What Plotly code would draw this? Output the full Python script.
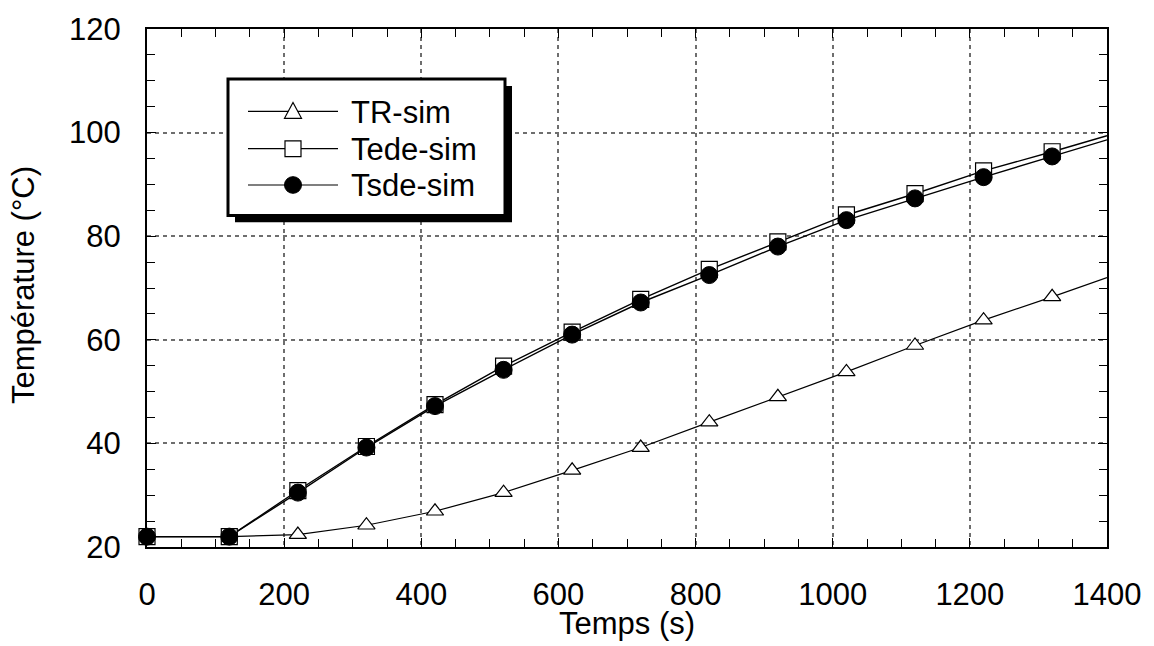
import plotly.graph_objects as go

# ---------------- data ----------------
time_s = [0, 120, 220, 320, 420, 520, 620, 720, 820, 920, 1020, 1120, 1220, 1320, 1400]
tr_sim = [22.0, 22.0, 22.4, 24.2, 26.9, 30.5, 34.8, 39.2, 44.1, 49.0, 53.8, 58.9, 63.8, 68.3, 72.0]
tede_sim = [22.0, 22.0, 30.9, 39.4, 47.5, 54.9, 61.5, 67.8, 73.6, 78.9, 84.1, 88.2, 92.6, 96.3, 99.4]
tsde_sim = [22.0, 22.0, 30.5, 39.2, 47.2, 54.2, 61.0, 67.2, 72.5, 78.0, 83.1, 87.3, 91.4, 95.4, 98.6]
series_names = ["TR-sim", "Tede-sim", "Tsde-sim"]
x_ticks = [0, 200, 400, 600, 800, 1000, 1200, 1400]
y_ticks = [20, 40, 60, 80, 100, 120]

FONT = "Liberation Sans, Arial, sans-serif"
W, H = 1154, 646
L, R, T, B = 147, 47, 19, 99
PW, PH = W - L - R, H - T - B


def fx(px):
    return (px - L) / PW


def fy(py):
    return (H - B - py) / PH


fig = go.Figure()

# lines (full simulation curves)
for vals, lw in [(tr_sim, 1.2), (tede_sim, 1.4), (tsde_sim, 1.4)]:
    fig.add_trace(go.Scatter(x=time_s, y=vals, mode="lines",
                             line=dict(color="black", width=lw), cliponaxis=False,
                             showlegend=False, hoverinfo="skip"))

# markers (not at the final 1400 s point; TR markers start at 220 s)
fig.add_trace(go.Scatter(x=time_s[2:-1], y=tr_sim[2:-1], mode="markers", name=series_names[0],
                         marker=dict(symbol="triangle-up", size=15, color="white",
                                     line=dict(color="black", width=1.2)),
                         cliponaxis=False, showlegend=False))
fig.add_trace(go.Scatter(x=time_s[:-1], y=tede_sim[:-1], mode="markers", name=series_names[1],
                         marker=dict(symbol="square", size=16, color="white",
                                     line=dict(color="black", width=1.2)),
                         cliponaxis=False, showlegend=False))
fig.add_trace(go.Scatter(x=time_s[:-1], y=tsde_sim[:-1], mode="markers", name=series_names[2],
                         marker=dict(symbol="circle", size=17, color="black",
                                     line=dict(color="black", width=1)),
                         cliponaxis=False, showlegend=False))

# ---------------- custom legend (layout shapes in paper units) ----------------
box_l, box_r, box_t, box_b = 228, 505, 70, 209
shadow = 7
shapes = [
    dict(type="rect", xref="paper", yref="paper",
         x0=fx(box_l + shadow), x1=fx(box_r + shadow), y0=fy(box_b + shadow), y1=fy(box_t + shadow),
         fillcolor="black", line=dict(color="black", width=0), layer="above"),
    dict(type="rect", xref="paper", yref="paper",
         x0=fx(box_l), x1=fx(box_r), y0=fy(box_b), y1=fy(box_t),
         fillcolor="white", line=dict(color="black", width=3), layer="above"),
]
rows_y = [103, 141, 178]
mx = 293
for ry in rows_y:
    shapes.append(dict(type="line", xref="paper", yref="paper",
                       x0=fx(248), x1=fx(338), y0=fy(ry), y1=fy(ry),
                       line=dict(color="black", width=1.2), layer="above"))

# legend symbols
ty = rows_y[0]
shapes.append(dict(type="path", xref="paper", yref="paper",
                   path="M {:.5f},{:.5f} L {:.5f},{:.5f} L {:.5f},{:.5f} Z".format(
                       fx(mx - 8.5), fy(ty + 7), fx(mx + 8.5), fy(ty + 7), fx(mx), fy(ty - 9)),
                   fillcolor="white", line=dict(color="black", width=1.2), layer="above"))
sy = rows_y[1]
shapes.append(dict(type="rect", xref="paper", yref="paper",
                   x0=fx(mx - 8), x1=fx(mx + 8), y0=fy(sy + 8), y1=fy(sy - 8),
                   fillcolor="white", line=dict(color="black", width=1.2), layer="above"))
cy = rows_y[2]
shapes.append(dict(type="circle", xref="paper", yref="paper",
                   x0=fx(mx - 8.5), x1=fx(mx + 8.5), y0=fy(cy + 8.5), y1=fy(cy - 8.5),
                   fillcolor="black", line=dict(color="black", width=1), layer="above"))

annotations = []
for name, ry in zip(series_names, rows_y):
    annotations.append(dict(text=name, xref="paper", yref="paper", x=fx(349), y=fy(ry + 1),
                            xanchor="left", yanchor="middle", showarrow=False,
                            font=dict(family=FONT, size=31, color="black")))

# axis titles
annotations.append(dict(text="Temps (s)", xref="paper", yref="paper", x=0.5, y=fy(625),
                        xanchor="center", yanchor="middle", showarrow=False,
                        font=dict(family=FONT, size=31, color="black")))
annotations.append(dict(text="Température (°C)", xref="paper", yref="paper", x=fx(23), y=fy(280),
                        xanchor="center", yanchor="middle", showarrow=False, textangle=-90,
                        font=dict(family=FONT, size=31, color="black")))

axis_common = dict(
    showline=True, linecolor="black", linewidth=2, mirror="allticks",
    ticks="inside", ticklen=9, tickwidth=1, tickcolor="black",
    showgrid=True, gridcolor="#6e6e6e", gridwidth=1.5, griddash="4px,4px",
    zeroline=False, tickfont=dict(family=FONT, size=31, color="black"),
)

fig.update_layout(
    width=W, height=H, margin=dict(l=L, r=R, t=T, b=B),
    paper_bgcolor="white", plot_bgcolor="white",
    shapes=shapes, annotations=annotations,
    xaxis=dict(range=[0, 1400], tickvals=x_ticks, ticklabelstandoff=19,
               minor=dict(dtick=50, ticks="inside", ticklen=8, tickcolor="black", showgrid=False),
               **axis_common),
    yaxis=dict(range=[20, 120], tickvals=y_ticks, ticklabelstandoff=18,
               minor=dict(dtick=5, ticks="inside", ticklen=8, tickcolor="black", showgrid=False),
               **axis_common),
    showlegend=False,
)

fig.write_html("out.html")
